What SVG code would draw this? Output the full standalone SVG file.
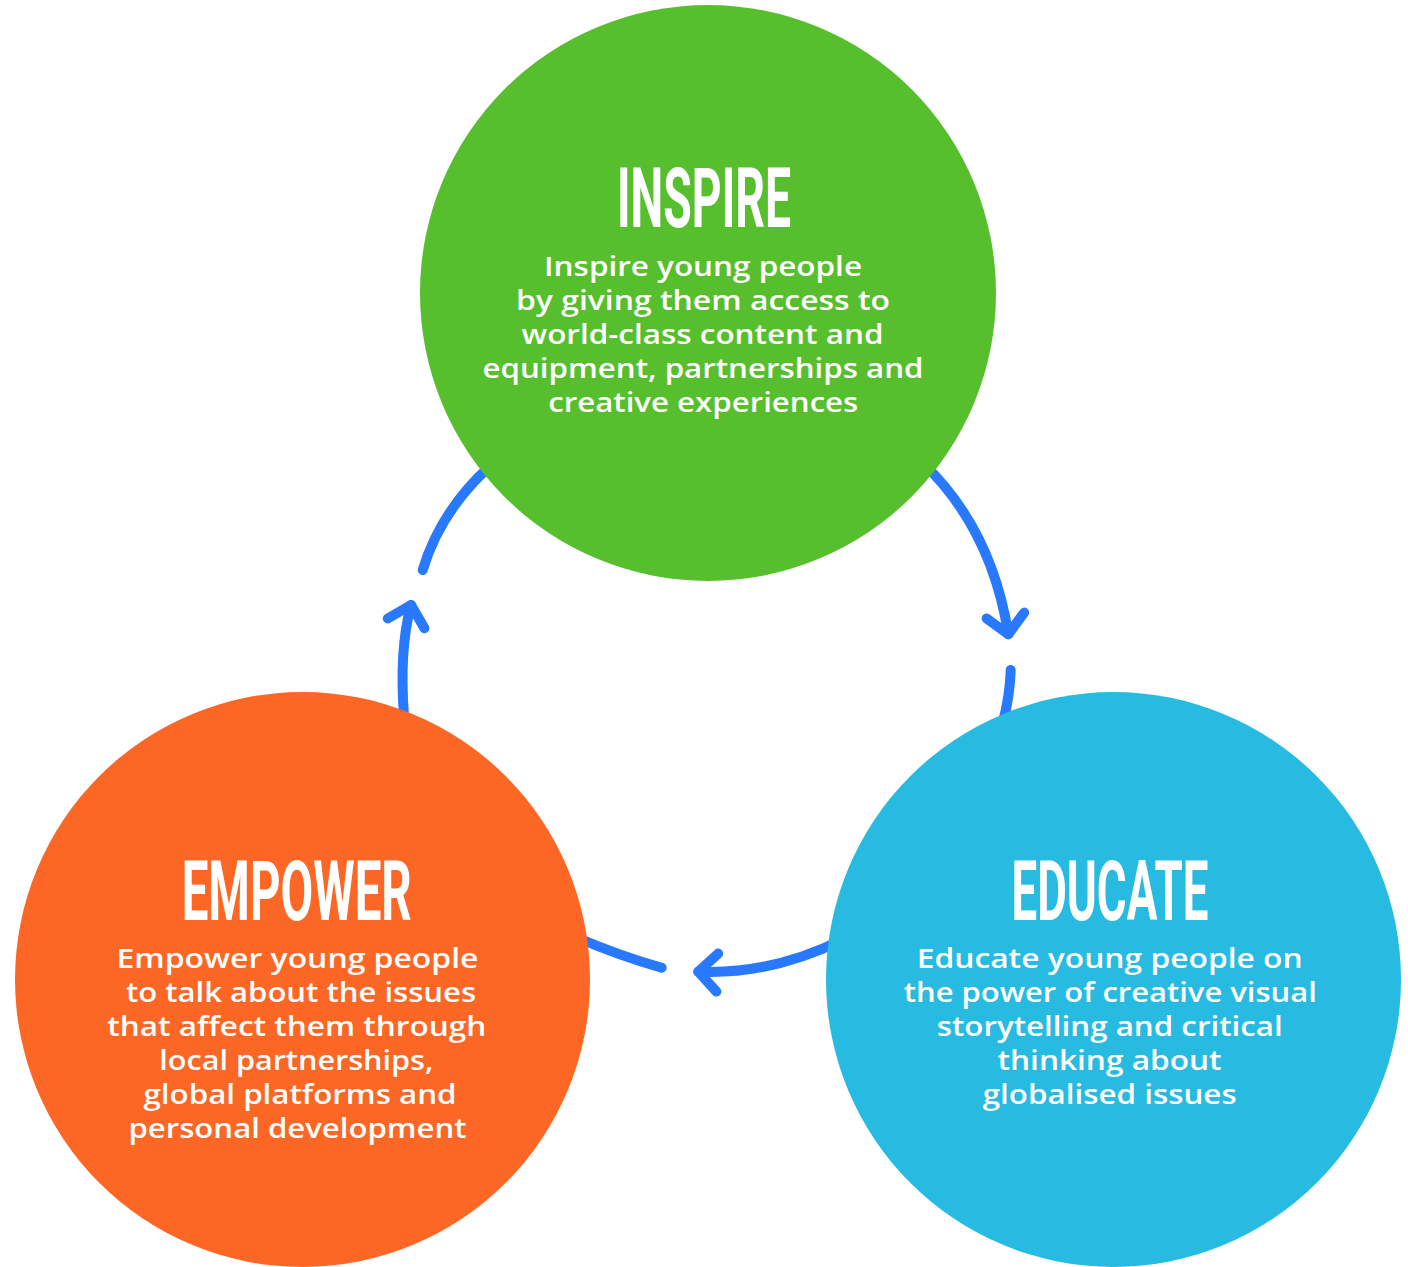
<svg xmlns="http://www.w3.org/2000/svg" width="1408" height="1267" viewBox="0 0 1408 1267">
<style>
.conn{fill:none;stroke:#2979FF;stroke-width:10;stroke-linecap:round;stroke-linejoin:round}
.head{font-family:Roboto,"Liberation Sans",sans-serif;font-weight:700;font-size:84px;fill:#fff;text-anchor:middle}
.body{font-family:"Open Sans","Noto Sans",sans-serif;font-weight:600;font-size:27px;fill:#fff;text-anchor:middle}
</style>
<defs>
<marker id="chev" markerUnits="userSpaceOnUse" viewBox="-30 -30 40 60" refX="0" refY="0" markerWidth="40" markerHeight="60" orient="auto" overflow="visible">
<path d="M -19 -19 L 0 0 L -19 19" fill="none" stroke="#2979FF" stroke-width="10" stroke-linecap="round" stroke-linejoin="round"/>
</marker>
</defs>
<rect width="1408" height="1267" fill="#fff"/>
<g id="connectors">
<path class="conn" d="M 490 466 Q 440.5 510.9 422.7 570"/>
<path class="conn" d="M 404 716 Q 399 650 411 605" marker-end="url(#chev)"/>
<path class="conn" d="M 924 464 Q 992 530 1008.3 634.3" marker-end="url(#chev)"/>
<path class="conn" d="M 1010.7 670 Q 1010 695 1003 722"/>
<path class="conn" d="M 578 938 Q 620 956 661.7 967.7"/>
<path class="conn" d="M 842 940 Q 770 975 698.3 971.7" marker-end="url(#chev)"/>
</g>
<g id="inspire">
<circle cx="708" cy="293" r="288" fill="#57BF2D"/>
<text class="head" x="704" y="227" textLength="174" lengthAdjust="spacingAndGlyphs">INSPIRE</text>
<text class="body" x="703" y="276" textLength="318" lengthAdjust="spacingAndGlyphs">Inspire young people</text>
<text class="body" x="703" y="310" textLength="374" lengthAdjust="spacingAndGlyphs">by giving them access to</text>
<text class="body" x="702.5" y="344" textLength="362" lengthAdjust="spacingAndGlyphs">world-class content and</text>
<text class="body" x="703" y="378" textLength="441" lengthAdjust="spacingAndGlyphs">equipment, partnerships and</text>
<text class="body" x="703.3" y="412" textLength="310" lengthAdjust="spacingAndGlyphs">creative experiences</text>
</g>
<g id="empower">
<circle cx="302.5" cy="979.5" r="287.5" fill="#FC6726"/>
<text class="head" x="296.7" y="920" textLength="230" lengthAdjust="spacingAndGlyphs">EMPOWER</text>
<text class="body" x="297.5" y="968.3" textLength="362" lengthAdjust="spacingAndGlyphs">Empower young people</text>
<text class="body" x="301" y="1002.3" textLength="350" lengthAdjust="spacingAndGlyphs">to talk about the issues</text>
<text class="body" x="296.7" y="1036.3" textLength="379" lengthAdjust="spacingAndGlyphs">that affect them through</text>
<text class="body" x="296.3" y="1070.3" textLength="274" lengthAdjust="spacingAndGlyphs">local partnerships,</text>
<text class="body" x="300" y="1104.3" textLength="313" lengthAdjust="spacingAndGlyphs">global platforms and</text>
<text class="body" x="297.5" y="1138.3" textLength="338" lengthAdjust="spacingAndGlyphs">personal development</text>
</g>
<g id="educate">
<circle cx="1113.5" cy="979.5" r="287.5" fill="#28BBE1"/>
<text class="head" x="1110" y="920" textLength="197" lengthAdjust="spacingAndGlyphs">EDUCATE</text>
<text class="body" x="1109.7" y="968.3" textLength="386" lengthAdjust="spacingAndGlyphs">Educate young people on</text>
<text class="body" x="1110.3" y="1002.3" textLength="413" lengthAdjust="spacingAndGlyphs">the power of creative visual</text>
<text class="body" x="1109.7" y="1036.3" textLength="346" lengthAdjust="spacingAndGlyphs">storytelling and critical</text>
<text class="body" x="1109.5" y="1070.3" textLength="224" lengthAdjust="spacingAndGlyphs">thinking about</text>
<text class="body" x="1109.7" y="1104.3" textLength="254" lengthAdjust="spacingAndGlyphs">globalised issues</text>
</g>
</svg>
